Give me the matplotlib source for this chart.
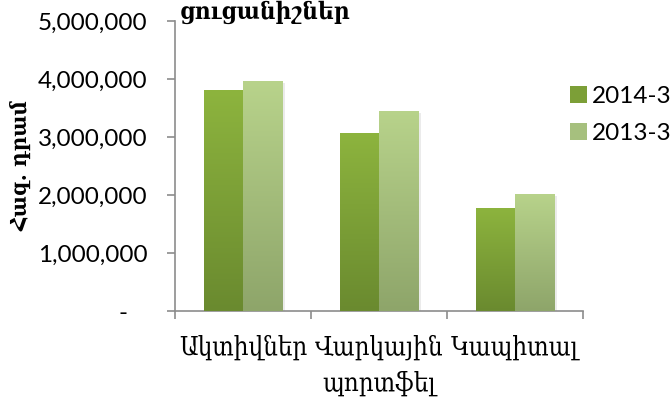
import numpy as np
import matplotlib
matplotlib.use("Agg")
import matplotlib.pyplot as plt
from matplotlib.colors import LinearSegmentedColormap
from matplotlib.ticker import FuncFormatter, FixedLocator
from matplotlib.patches import Patch

# ----------------------------
# Data
# ----------------------------
categories = ["Ակտիվներ", "Վարկային\nպորտֆել", "Կապիտալ"]
series_names = ["2014-3", "2013-3"]
values_2014 = [3810000, 3070000, 1780000]
values_2013 = [3965000, 3450000, 2020000]
y_ticks = [0, 1000000, 2000000, 3000000, 4000000, 5000000]

title_text = "ցուցանիշներ"
ylabel_text = "Հազ. դրամ"

# ----------------------------
# Style
# ----------------------------
arm_font = ["DejaVu Serif", "DejaVu Sans"]
num_font = ["Lato", "DejaVu Sans"]
num_size = 17.5

grad_colors = {
    "2014-3": ("#6a8a2f", "#8db43e"),   # bottom, top
    "2013-3": ("#8ea56a", "#b8d38b"),
}
axis_color = "#8c8c8c"

fig = plt.figure(figsize=(6.7, 3.99), dpi=100)
ax = fig.add_axes([175 / 670, 1 - 311 / 399, (583 - 175) / 670, (311 - 21) / 399])

x = np.arange(len(categories))
bar_w = 0.29
series = [values_2014, values_2013]
offsets = [-bar_w / 2, bar_w / 2]

for name, vals, off in zip(series_names, series, offsets):
    bottom_c, top_c = grad_colors[name]
    cmap = LinearSegmentedColormap.from_list(name, [bottom_c, top_c])
    bars = ax.bar(x + off, vals, width=bar_w, color=top_c, linewidth=0, zorder=2)
    for rect in bars:
        x0, y0 = rect.get_x(), rect.get_y()
        w, h = rect.get_width(), rect.get_height()
        # soft shadow
        ax.bar(x0 + w / 2 + 0.012, h, width=w + 0.01, bottom=-30000,
               color="#000000", alpha=0.08, linewidth=0, zorder=1)
        grad = np.linspace(0, 1, 256).reshape(-1, 1)
        im = ax.imshow(grad, extent=[x0, x0 + w, y0, y0 + h], origin="lower",
                       aspect="auto", cmap=cmap, zorder=3)
        im.set_clip_path(rect)

ax.set_xlim(-0.5, len(categories) - 0.5)
ax.set_ylim(0, 5000000)

# axes / ticks
for side in ["top", "right"]:
    ax.spines[side].set_visible(False)
for side in ["left", "bottom"]:
    ax.spines[side].set_color(axis_color)
    ax.spines[side].set_linewidth(1.2)

ax.set_xticks(x)
ax.set_xticklabels(categories, fontsize=18.5, family=arm_font,
                   fontstretch="condensed", linespacing=1.55)
ax.xaxis.set_minor_locator(FixedLocator(np.arange(len(categories) + 1) - 0.5))
ax.tick_params(axis="x", which="major", length=0, pad=17)
ax.tick_params(axis="x", which="minor", length=6, width=1.2, color=axis_color)

ax.set_yticks(y_ticks)
ax.yaxis.set_major_formatter(FuncFormatter(lambda v, _: "-   " if v == 0 else f"{v:,.0f}"))
ax.tick_params(axis="y", length=6, width=1.2, color=axis_color, pad=14, labelsize=num_size)
for lab in ax.get_yticklabels():
    lab.set_family(num_font)

ax.set_ylabel(ylabel_text, fontsize=16, fontweight="bold", family=arm_font,
              fontstretch="condensed")
ax.yaxis.set_label_coords(-0.35, 0.5)

fig.text(265 / 670, 1 - 12 / 399, title_text, fontsize=17.5, fontweight="bold",
         family=arm_font, fontstretch="condensed", ha="center", va="center")

handles = [Patch(facecolor=c, edgecolor="none") for c in ["#7c9f37", "#a6c07e"]]
leg = fig.legend(handles, series_names, loc="center left",
                 bbox_to_anchor=(548 / 670, 1 - 115 / 399), frameon=False,
                 prop={"family": num_font, "size": num_size}, handlelength=0.7,
                 handleheight=0.7, handletextpad=0.2, labelspacing=0.68)

fig.savefig("out.png", dpi=100)
